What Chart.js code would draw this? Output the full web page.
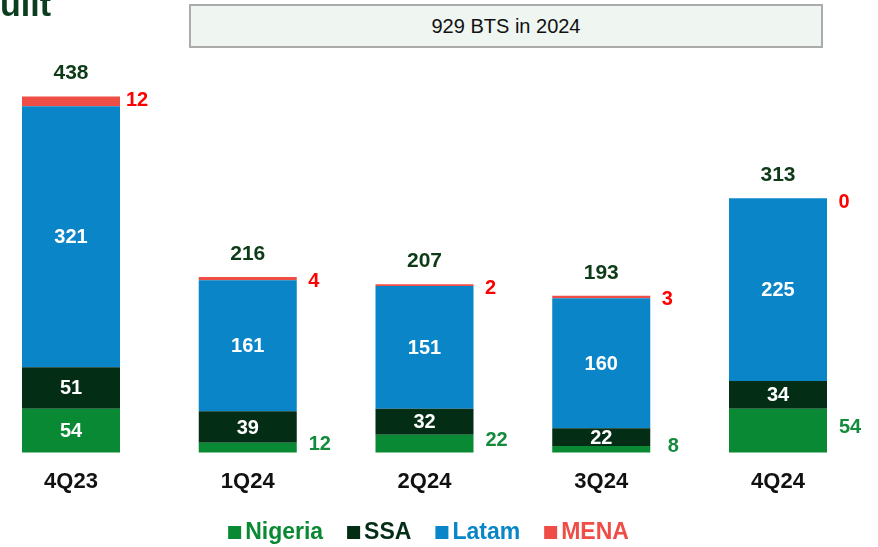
<!DOCTYPE html>
<html><head><meta charset="utf-8">
<script src="https://cdn.jsdelivr.net/npm/chart.js@4/dist/chart.umd.min.js"></script>
<style>
html,body{margin:0;padding:0;background:#fff;overflow:hidden}
#wrap{position:relative;width:878px;height:547px;overflow:hidden}
#title{position:absolute;right:827px;top:-12px;font:bold 34px "Liberation Sans",Arial,sans-serif;color:#0B3D1E;white-space:nowrap;line-height:32px}
#box{position:absolute;left:189px;top:4px;width:630px;height:40px;background:#EFF5F0;border:2px solid #ABABAB;font:20px "Liberation Sans",Arial,sans-serif;display:flex;align-items:center;justify-content:center;color:#111}
canvas{position:absolute;left:0;top:0}
</style>
</head><body>
<div id="wrap">
<canvas id="c" width="878" height="547"></canvas>
<div id="title">BTS built</div>
<div id="box">929 BTS in 2024</div>
</div>
<script>
const categories = ['4Q23','1Q24','2Q24','3Q24','4Q24'];
const seriesNames = ['Nigeria','SSA','Latam','MENA'];
const nigeria = [54,12,22,8,54];
const ssa = [51,39,32,22,34];
const latam = [321,161,151,160,225];
const mena = [12,4,2,3,0];
const totals = [438,216,207,193,313];

const barColors = ['#0A8934','#032D15','#0A85C7','#EF4E47'];
const legendColors = ['#0A8934','#032D15','#0A85C7','#EF4E47'];
const nigeriaOutside = [false,true,true,true,true];
const FONT = '"Liberation Sans", Arial, sans-serif';
Chart.defaults.font.family = FONT;

const labelPlugin = {
  id:'barLabels',
  afterDatasetsDraw(chart){
    const ctx = chart.ctx;
    ctx.save();
    ctx.textAlign='center'; ctx.textBaseline='middle';
    const metas = [0,1,2,3].map(i=>chart.getDatasetMeta(i));
    categories.forEach((c,j)=>{
      [0,1,2].forEach(i=>{
        const el = metas[i].data[j];
        const v = chart.data.datasets[i].data[j];
        const mid = (el.y + el.base)/2;
        if (i===0 && nigeriaOutside[j]) {
          ctx.font = 'bold 20px ' + FONT;
          ctx.fillStyle = '#138A3C';
          ctx.fillText(String(v), el.x + 72, mid - 3);
        } else {
          ctx.font = 'bold 20px ' + FONT;
          ctx.fillStyle = '#FFFFFF';
          ctx.fillText(String(v), el.x, mid + 1);
        }
      });
      const m = metas[3].data[j];
      ctx.font = 'bold 20px ' + FONT;
      ctx.fillStyle = '#FF0000';
      ctx.fillText(String(chart.data.datasets[3].data[j]), m.x + 66, m.y + 4);
      ctx.font = 'bold 21px ' + FONT;
      ctx.fillStyle = '#0E3B17';
      ctx.fillText(String(totals[j]), m.x, m.y - 23);
    });
    ctx.restore();
  }
};

const legendPlugin = {
  id:'customLegend',
  afterDraw(chart){
    const ctx = chart.ctx;
    ctx.save();
    ctx.font = 'bold 23px ' + FONT;
    ctx.textBaseline = 'middle';
    ctx.textAlign = 'left';
    const box = 13, gapBT = 4, gapItem = 24;
    const widths = seriesNames.map(s=>ctx.measureText(s).width);
    let total = widths.reduce((a,b)=>a+b,0) + seriesNames.length*(box+gapBT) + (seriesNames.length-1)*gapItem;
    const cx = (chart.chartArea.left + chart.chartArea.right)/2 + 4;
    let x = cx - total/2;
    const y = 532;
    seriesNames.forEach((s,i)=>{
      ctx.fillStyle = barColors[i];
      ctx.fillRect(x, y - 6, box, box);
      x += box + gapBT;
      ctx.fillStyle = legendColors[i];
      ctx.fillText(s, x, y + 1);
      x += widths[i] + gapItem;
    });
    ctx.restore();
  }
};

const seriesData = [nigeria, ssa, latam, mena];
new Chart(document.getElementById('c'), {
  type:'bar',
  data:{
    labels: categories,
    datasets: seriesNames.map((n,i)=>({
      label:n, data:seriesData[i], backgroundColor:barColors[i],
      borderWidth:0, barPercentage:0.5545, categoryPercentage:1, clip:false
    }))
  },
  options:{
    responsive:false, animation:false,
    layout:{padding:{left:71,right:100,top:60,bottom:36}},
    plugins:{legend:{display:false},tooltip:{enabled:false},title:{display:false}},
    scales:{
      x:{stacked:true, offset:false,
         grid:{display:false,drawTicks:false}, border:{display:false},
         ticks:{font:{size:22,weight:'bold'},color:'#111',padding:16,maxRotation:0,autoSkip:false}},
      y:{stacked:true, display:false, min:0, max:483}
    }
  },
  plugins:[labelPlugin, legendPlugin]
});
</script>
</body></html>
